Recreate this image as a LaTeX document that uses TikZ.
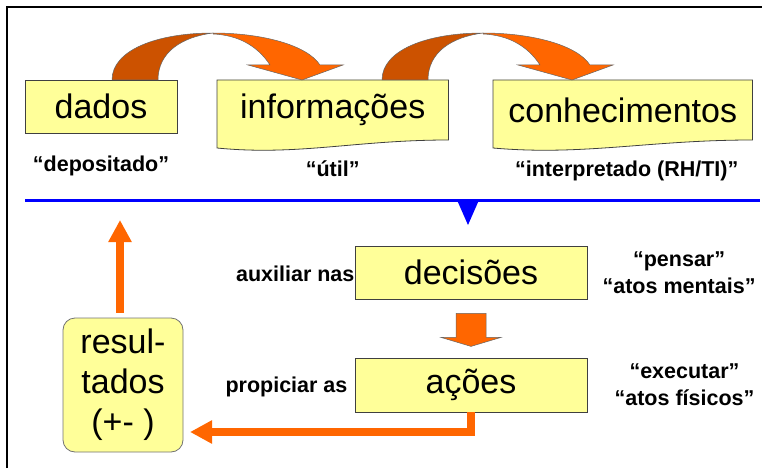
\documentclass[tikz,border=0pt]{standalone}
\usepackage{fontspec}
\setmainfont{Liberation Sans}
\usepackage{tikz}
\usetikzlibrary{arrows.meta, positioning, calc, backgrounds}
\definecolor{boxyellow}{HTML}{FFFF99}
\definecolor{floworange}{HTML}{FF6600}
\definecolor{flowshade}{HTML}{CC5200}
\definecolor{ruleblue}{HTML}{0000FF}
\tikzstyle{plainbox} = [rectangle, draw=black!75, fill=boxyellow, line width=0.8pt, minimum height=53pt, text centered, font=\fontsize{34}{40}\selectfont]
\tikzstyle{docbox} = [rectangle, minimum height=60pt, anchor=north west, text centered, font=\fontsize{34}{40}\selectfont]
\tikzstyle{note} = [inner sep=0pt, align=center, font=\bfseries\fontsize{21.5}{27}\selectfont]
\tikzstyle{fatarrow} = [line width=8pt, color=floworange, -{Triangle[length=22pt, width=22pt]}]
\tikzstyle{blockarrow} = [fill=floworange, draw=black!60, line width=0.5pt]

% ribbon arrow bending over from one box to the next
\tikzset{bentarrow/.pic={
  \filldraw[fill=flowshade, draw=black!60, line width=0.5pt] (0,0) .. controls (0,-30) and (45,-47) .. (101,-47)
    .. controls (70,-43) and (46,-28) .. (46,0) -- cycle;
  \filldraw[blockarrow] (101,-47) .. controls (150,-47) and (195,-35) .. (208,-15) -- (231,-15) -- (190,0)
    -- (136,-15) -- (158,-15) .. controls (145,-35) and (125,-45) .. (101,-46) -- cycle;
}}

% sheet with a wavy lower edge behind a node
\newcommand{\docoutline}[1]{%
  \filldraw[fill=boxyellow, draw=black!75, line width=0.8pt]
    let \p1=(#1.north west), \p2=(#1.north east), \n1={\x2-\x1} in
    (\p1) -- (\p2) -- (\x2,\y2-60pt)
    .. controls (\x2-0.4*\n1,\y2-60pt) and (\x1+0.35*\n1,\y1-76pt) .. (\x1,\y1-68pt) -- cycle;}

\begin{document}
\begin{tikzpicture}[x=1pt, y=-1pt]
    \useasboundingbox (0,0) rectangle (762,468);
    \draw[line width=2pt] (7,468) -- (7,7) -- (762,7);

    \node[plainbox, minimum width=152pt] (dados) at (101,106.5) {dados};
    \node[docbox, minimum width=231pt] (info) at (217,80) {informações};
    \node[docbox, minimum width=259pt] (conh) at (493,80) {conhecimentos};
    \begin{scope}[on background layer]
        \docoutline{info}
        \docoutline{conh}
    \end{scope}
    \pic at (112,80) {bentarrow};
    \pic at (382,80) {bentarrow};

    % Labels
    \node[note, below=22pt of dados] (dep) {“depositado”};
    \node[note, below=20pt of info] (util) {“útil”};
    \node[note, below=20pt of conh, xshift=4pt] (interp) {“interpretado (RH/TI)”};

    \draw[ruleblue, line width=3pt] (25,200) -- (760,200);
    \fill[ruleblue] (457,200) -- (479,200) -- (468,225) -- cycle;

    \node[plainbox, minimum width=232pt] (dec) at (471,272.5) {decisões};
    \node[plainbox, minimum width=232pt, minimum height=54pt] (acoes) at (471,385) {ações};
    \filldraw[blockarrow, shift={(dec.south)}] (-15,14) -- (15,14) -- (15,38) -- (30,38) -- (0,47) -- (-30,38) -- (-15,38) -- cycle;

    \node[note, left=0pt of dec, yshift=-1pt] (aux) {auxiliar nas};
    \node[note, left=7pt of acoes, yshift=-2pt] (prop) {propiciar as};
    \node[note, right=15pt of dec] (think) {“pensar”\\“atos mentais”};
    \node[note, right=27pt of acoes] (act) {“executar”\\“atos físicos”};

    \node[plainbox, rounded corners=12pt, draw=black!55, minimum width=120pt, minimum height=134pt, align=center] (res) at (123,385) {resul-\\tados\\(+- )};
    \coordinate (back) at (190,432);
    \coordinate (up) at (120,220);
    \draw[fatarrow] (acoes.south) |- (back);
    \draw[fatarrow, shorten <=5pt] ([xshift=-3pt]res.north) -- (up);
\end{tikzpicture}
\end{document}
